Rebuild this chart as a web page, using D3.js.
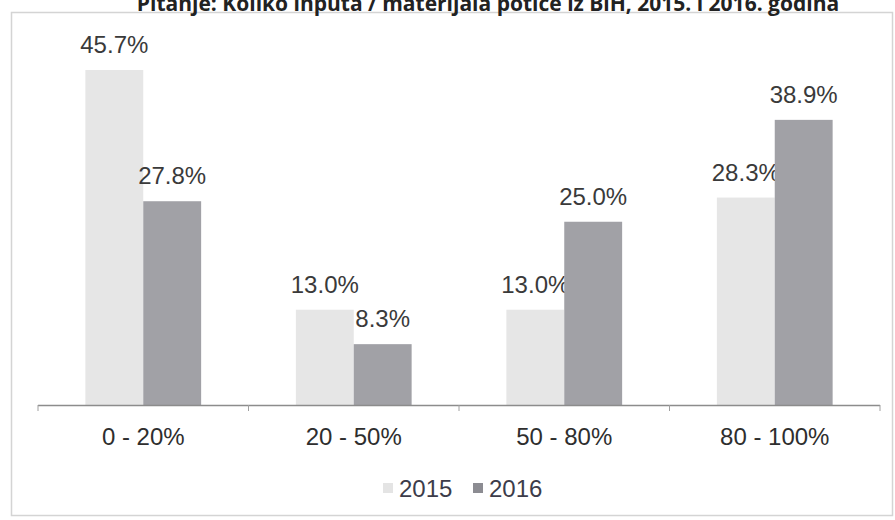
<!DOCTYPE html>
<html>
<head>
<meta charset="utf-8">
<script src="https://cdn.jsdelivr.net/npm/d3@7/dist/d3.min.js"></script>
<style>
  html, body { margin: 0; padding: 0; background: #ffffff; }
  svg { display: block; }
</style>
</head>
<body>
<svg id="chart" width="895" height="520"></svg>
<script>
const title = "Pitanje: Koliko inputa / materijala potiče iz BiH, 2015. i 2016. godina";
const categories = ["0 - 20%", "20 - 50%", "50 - 80%", "80 - 100%"];
const years = ["2015", "2016"];
const values2015 = [45.7, 13.0, 13.0, 28.3];
const values2016 = [27.8, 8.3, 25.0, 38.9];
const valueLabels2015 = ["45.7%", "13.0%", "13.0%", "28.3%"];
const valueLabels2016 = ["27.8%", "8.3%", "25.0%", "38.9%"];

const colors = { "2015": "#e6e6e6", "2016": "#a1a1a6" };
const legendColors = { "2015": "#e4e4e4", "2016": "#8c8c92" };
const series = [
  { year: "2015", values: values2015, labels: valueLabels2015 },
  { year: "2016", values: values2016, labels: valueLabels2016 }
];

const svg = d3.select("#chart");
const font = "'Liberation Sans', Arial, sans-serif";

// frame
svg.append("rect")
  .attr("x", 11.5).attr("y", 12.5).attr("width", 881).attr("height", 503)
  .attr("fill", "none").attr("stroke", "#d4d4d4").attr("stroke-width", 1.5);

// title (partly cut off at top, as in the source)
svg.append("text")
  .attr("x", 488).attr("y", 11)
  .attr("text-anchor", "middle")
  .attr("font-family", "'Open Sans', sans-serif")
  .attr("font-weight", "bold")
  .attr("font-size", 21)
  .attr("fill", "#222")
  .text(title);

const baseY = 405;
const y = d3.scaleLinear().domain([0, 50]).range([baseY, baseY - 366.5]);
const x0 = d3.scaleBand().domain(categories).range([38, 880]).paddingInner(0.45).paddingOuter(0.225);
const x1 = d3.scaleBand().domain(years).range([0, x0.bandwidth()]).padding(0);

// bars
series.forEach(s => {
  const g = svg.append("g");
  g.selectAll("rect").data(categories).join("rect")
    .attr("x", (c) => x0(c) + x1(s.year))
    .attr("y", (c, i) => y(s.values[i]))
    .attr("width", x1.bandwidth())
    .attr("height", (c, i) => baseY - y(s.values[i]))
    .attr("fill", colors[s.year]);
  g.selectAll("text").data(categories).join("text")
    .attr("x", (c) => x0(c) + x1(s.year) + x1.bandwidth() / 2)
    .attr("y", (c, i) => y(s.values[i]) - 17)
    .attr("text-anchor", "middle")
    .attr("font-family", font)
    .attr("font-size", 24)
    .attr("fill", "#3a3a3a")
    .text((c, i) => s.labels[i]);
});

// axis
const axisG = svg.append("g").attr("transform", `translate(0,${baseY})`);
axisG.append("line")
  .attr("x1", 38).attr("x2", 880).attr("y1", 0.5).attr("y2", 0.5)
  .attr("stroke", "#8c8c8c").attr("stroke-width", 1.5);
const tickXs = [38].concat(categories.map(c => x0(c) + x0.bandwidth() / 2 + x0.step() / 2));
axisG.selectAll("line.tick").data(tickXs).join("line")
  .attr("class", "tick")
  .attr("x1", d => d).attr("x2", d => d)
  .attr("y1", 0).attr("y2", 6)
  .attr("stroke", "#a0a0a0").attr("stroke-width", 1);
axisG.selectAll("text").data(categories).join("text")
  .attr("x", c => x0(c) + x0.bandwidth() / 2)
  .attr("y", 40)
  .attr("text-anchor", "middle")
  .attr("font-family", font)
  .attr("font-size", 24)
  .attr("fill", "#2e2e2e")
  .text(c => c);

// legend
const legend = svg.append("g").attr("transform", "translate(0,488)");
const legendItems = [
  { year: "2015", mx: 383, tx: 399 },
  { year: "2016", mx: 473, tx: 489 }
];
legendItems.forEach(it => {
  legend.append("rect")
    .attr("x", it.mx).attr("y", -5).attr("width", 10).attr("height", 10)
    .attr("fill", legendColors[it.year]);
  legend.append("text")
    .attr("x", it.tx).attr("y", 9)
    .attr("font-family", font)
    .attr("font-size", 24)
    .attr("fill", "#3c3c4a")
    .text(it.year);
});
</script>
</body>
</html>
